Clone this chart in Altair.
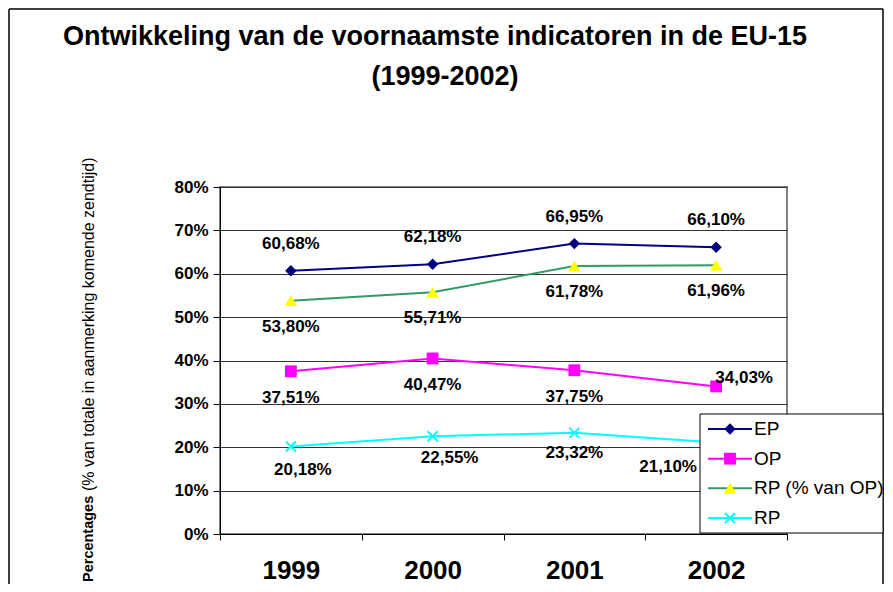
import altair as alt
import pandas as pd

# ---------------- data ----------------
years = ["1999", "2000", "2001", "2002"]
series = ["EP", "OP", "RP (% van OP)", "RP"]
ep_values = [60.68, 62.18, 66.95, 66.10]
op_values = [37.51, 40.47, 37.75, 34.03]
rp_op_values = [53.80, 55.71, 61.78, 61.96]
rp_values = [20.18, 22.55, 23.32, 21.10]
y_tick_values = [0, 10, 20, 30, 40, 50, 60, 70, 80]
title_lines = ["Ontwikkeling van de voornaamste indicatoren in de EU-15", "(1999-2002)"]
y_title_bold = "Percentages"
y_title_rest = "(% van totale in aanmerking komende zendtijd)"

# ---------------- styling ----------------
FONT = "Liberation Sans, Arial, sans-serif"
line_colors = ["#000080", "#FF00FF", "#339966", "#00FFFF"]
PLOT_W, PLOT_H = 567, 347
PAD_L, PAD_T = 212, 179
TOTAL_W, TOTAL_H = 877, 576

rows = []
for name, vals in zip(series, [ep_values, op_values, rp_op_values, rp_values]):
    for yr, v in zip(years, vals):
        rows.append({"series": name, "year": yr, "value": v})
df = pd.DataFrame(rows)

x_enc = alt.X(
    "year:N",
    sort=years,
    bandPosition=0.5,
    scale=alt.Scale(type="band", domain=years, paddingInner=0, paddingOuter=0),
    axis=alt.Axis(
        title=None, labelAngle=0, labelFontSize=26, labelFontWeight="bold",
        labelFont=FONT, labelColor="black", domainColor="black", tickColor="black",
        tickBand="extent", tickSize=6, labelPadding=17, grid=False,
    ),
)
y_enc = alt.Y(
    "value:Q",
    scale=alt.Scale(domain=[0, 80], nice=False, zero=True),
    axis=alt.Axis(
        values=y_tick_values, labelExpr="datum.value + '%'", title=None,
        labelFontSize=17, labelFontWeight="bold", labelFont=FONT, labelColor="black",
        grid=True, gridColor="#333333", gridWidth=1, tickSize=7, labelPadding=5,
        domainColor="black", tickColor="black",
    ),
)
color_scale = alt.Scale(domain=series, range=line_colors)

base = alt.Chart(df)

lines = base.mark_line(strokeWidth=2).encode(
    x=x_enc, y=y_enc,
    color=alt.Color("series:N", scale=color_scale, legend=None),
    detail="series:N",
)

X_PATH = "M-1,-1L1,1M-1,1L1,-1"
marker_specs = {
    "EP": dict(shape="diamond", filled=True, size=130, color="#000080", opacity=1),
    "OP": dict(shape="square", filled=True, size=140, color="#FF00FF", opacity=1),
    "RP (% van OP)": dict(shape="triangle-up", filled=True, size=160, color="#FFFF00", opacity=1),
    "RP": dict(shape=X_PATH, filled=False, size=100, color="#00FFFF", strokeWidth=2, opacity=1),
}

points = [
    base.transform_filter(alt.datum.series == s).mark_point(**marker_specs[s]).encode(x=x_enc, y=y_enc)
    for s in series
]

label_expr = "replace(format(datum.value, '.2f'), '.', ',') + '%'"


def label_layer(s, yrs, dx, dy):
    return (
        base.transform_filter(alt.datum.series == s)
        .transform_filter(alt.FieldOneOfPredicate(field="year", oneOf=yrs))
        .transform_calculate(label=label_expr)
        .mark_text(font=FONT, fontSize=17, fontWeight="bold", color="black",
                   baseline="middle", align="center", dx=dx, dy=dy)
        .encode(x=x_enc, y=y_enc, text="label:N")
    )


labels = [
    label_layer("EP", years, 0, -27),
    label_layer("RP (% van OP)", years, 0, 26),
    label_layer("OP", years[:3], 0, 27),
    label_layer("OP", ["2002"], 28, -8),
    label_layer("RP", ["1999"], 12, 24),
    label_layer("RP", ["2000"], 17, 22),
    label_layer("RP", ["2001"], 0, 20),
    label_layer("RP", ["2002"], -48, 25),
]

main = alt.layer(lines, *points, *labels)

# ---------------- decorations: titles, legend, border ----------------
one = alt.Chart(pd.DataFrame({"k": [0]}))
title1 = one.mark_text(
    text=title_lines[0], font=FONT, fontSize=27, fontWeight="bold", color="black",
    align="center", baseline="middle",
).encode(x=alt.value(215), y=alt.value(-150))
title2 = one.mark_text(
    text=title_lines[1], font=FONT, fontSize=27, fontWeight="bold", color="black",
    align="center", baseline="middle",
).encode(x=alt.value(225), y=alt.value(-110))

ytitle_bold = one.mark_text(
    text=y_title_bold, font=FONT, fontSize=14.5, fontWeight="bold", angle=270,
    align="left", baseline="middle", color="black",
).encode(x=alt.value(-131), y=alt.value(395))
ytitle_rest = one.mark_text(
    text=y_title_rest, font=FONT, fontSize=16, fontWeight="normal", angle=270,
    align="left", baseline="middle", color="black",
).encode(x=alt.value(-131), y=alt.value(304))

border_left = one.mark_rule(color="black", strokeWidth=1.5).encode(
    x=alt.value(-211), y=alt.value(-178), y2=alt.value(430)
)
border_top = one.mark_rule(color="black", strokeWidth=1.5).encode(
    x=alt.value(-211), x2=alt.value(663), y=alt.value(-178)
)
border_right = one.mark_rule(color="black", strokeWidth=1.5).encode(
    x=alt.value(663), y=alt.value(-178), y2=alt.value(430)
)
legend_box = one.mark_rect(fill="white", stroke="black", strokeWidth=1).encode(
    x=alt.value(480), x2=alt.value(663), y=alt.value(227), y2=alt.value(346)
)

leg_df = pd.DataFrame({"series": series})
leg_base = alt.Chart(leg_df)
leg_y = alt.Y(
    "series:N", sort=series,
    scale=alt.Scale(type="point", domain=series, range=[242, 331], padding=0),
    axis=None,
)
leg_rules = leg_base.mark_rule(strokeWidth=2).encode(
    x=alt.value(488), x2=alt.value(532), y=leg_y,
    color=alt.Color("series:N", scale=color_scale, legend=None),
)
leg_points = [
    leg_base.transform_filter(alt.datum.series == s).mark_point(**marker_specs[s]).encode(
        x=alt.value(510), y=leg_y
    )
    for s in series
]
leg_text = leg_base.mark_text(
    font=FONT, fontSize=19, align="left", baseline="middle", color="black"
).encode(x=alt.value(534), y=leg_y, text="series:N")

legend = alt.layer(title1, title2, border_left, border_top, border_right,
                   ytitle_bold, ytitle_rest, legend_box, leg_rules, *leg_points, leg_text)

chart = (
    alt.layer(main, legend)
    .resolve_scale(y="independent")
    .properties(
        width=PLOT_W,
        height=PLOT_H,
        autosize=alt.AutoSizeParams(type="none"),
        padding={"left": PAD_L, "top": PAD_T, "right": TOTAL_W - PAD_L - PLOT_W,
                 "bottom": TOTAL_H - PAD_T - PLOT_H},
        background="white",
    )
    .configure_view(stroke="#808080", strokeWidth=2)
)

chart.save("out.html", embed_options={"renderer": "svg", "actions": False})
